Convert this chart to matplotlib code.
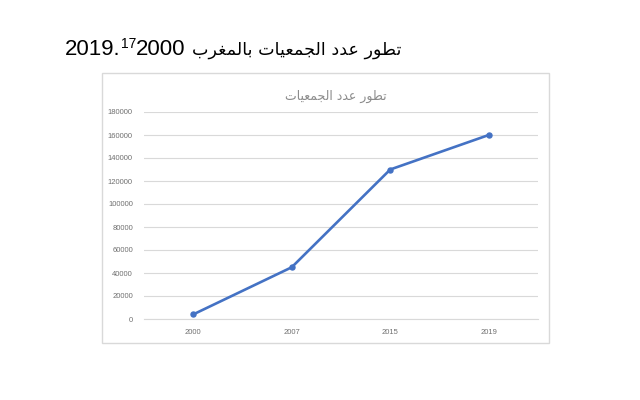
import matplotlib
matplotlib.use("Agg")
import matplotlib.pyplot as plt
from matplotlib.patches import Rectangle

# ---- data ----
years = ["2000", "2007", "2015", "2019"]
associations = [4000, 45000, 130000, 160000]
y_ticks = [0, 20000, 40000, 60000, 80000, 100000, 120000, 140000, 160000, 180000]
chart_title = "تطور عدد الجمعيات"
page_title_ar = "تطور عدد الجمعيات بالمغرب"
page_title_num1 = "2019."
page_title_sup = "17"
page_title_num2 = "2000"

# ---- minimal Arabic shaping (presentation forms) for display ----
FORMS = {  # isolated, final, initial, medial
    "ا": ("\uFE8D", "\uFE8E", None, None),
    "ب": ("\uFE8F", "\uFE90", "\uFE91", "\uFE92"),
    "ت": ("\uFE95", "\uFE96", "\uFE97", "\uFE98"),
    "ج": ("\uFE9D", "\uFE9E", "\uFE9F", "\uFEA0"),
    "د": ("\uFEA9", "\uFEAA", None, None),
    "ر": ("\uFEAD", "\uFEAE", None, None),
    "ط": ("\uFEC1", "\uFEC2", "\uFEC3", "\uFEC4"),
    "ع": ("\uFEC9", "\uFECA", "\uFECB", "\uFECC"),
    "غ": ("\uFECD", "\uFECE", "\uFECF", "\uFED0"),
    "ل": ("\uFEDD", "\uFEDE", "\uFEDF", "\uFEE0"),
    "م": ("\uFEE1", "\uFEE2", "\uFEE3", "\uFEE4"),
    "و": ("\uFEED", "\uFEEE", None, None),
    "ي": ("\uFEF1", "\uFEF2", "\uFEF3", "\uFEF4"),
}


def dual(c):
    return c in FORMS and FORMS[c][2] is not None


def shape(text):
    out = []
    n = len(text)
    for i, c in enumerate(text):
        if c not in FORMS:
            out.append(c)
            continue
        prev_join = i > 0 and dual(text[i - 1])
        next_join = dual(c) and i + 1 < n and text[i + 1] in FORMS
        f = FORMS[c]
        if prev_join and next_join:
            out.append(f[3])
        elif prev_join:
            out.append(f[1])
        elif next_join:
            out.append(f[2])
        else:
            out.append(f[0])
    return "".join(reversed(out))


W, H = 640, 400
fig = plt.figure(figsize=(6.4, 4.0), dpi=100)
fig.patch.set_facecolor("white")

# chart frame
fig.patches.append(Rectangle((102 / W, 1 - 343 / H), (549 - 102) / W, (343 - 73) / H,
                             transform=fig.transFigure, facecolor="white",
                             edgecolor="#D9D9D9", linewidth=1.0, zorder=-5))

ax = fig.add_axes([144 / W, 1 - 319 / H, (538 - 144) / W, (319 - 112) / H])
ax.set_zorder(2)
ax.set_facecolor("none")
x = list(range(len(years)))
ax.plot(x, associations, color="#4472C4", linewidth=1.9, marker="o",
        markersize=3.6, zorder=3)
ax.set_xlim(-0.5, len(years) - 0.5)
ax.set_ylim(y_ticks[0], y_ticks[-1])
ax.set_yticks(y_ticks)
ax.set_yticklabels([str(v) for v in y_ticks])
ax.set_xticks(x)
ax.set_xticklabels(years)
ax.grid(axis="y", color="#D9D9D9", linewidth=0.8)
ax.set_axisbelow(True)
for s in ["top", "right", "left"]:
    ax.spines[s].set_visible(False)
ax.spines["bottom"].set_color("#D9D9D9")
ax.spines["bottom"].set_linewidth(0.8)
ax.tick_params(length=0, labelsize=5.5, labelcolor="#707070")
ax.tick_params(axis="y", pad=8)
ax.tick_params(axis="x", pad=7)
for lab in ax.get_xticklabels() + ax.get_yticklabels():
    lab.set_family(["Liberation Sans", "DejaVu Sans"])

# inner chart title
fig.text(336 / W, 1 - 96 / H, shape(chart_title), ha="center", va="center",
         fontsize=9, color="#8C8C8C", family=["DejaVu Sans"], zorder=3)

# page title built left to right in visual order
fig.canvas.draw()
r = fig.canvas.get_renderer()
base_y = 1 - 55 / H
x0 = 65 / W
fam = ["Liberation Sans", "DejaVu Sans"]
t1 = fig.text(x0, base_y, page_title_num1, fontsize=16, family=fam,
              color="black", va="baseline", ha="left")
bb = t1.get_window_extent(r)
t2 = fig.text(bb.x1 / W, base_y + 7 / H, page_title_sup, fontsize=10,
              family=fam, color="black", va="baseline", ha="left")
bb = t2.get_window_extent(r)
t3 = fig.text(bb.x1 / W, base_y, page_title_num2, fontsize=16, family=fam,
              color="black", va="baseline", ha="left")
bb = t3.get_window_extent(r)
t4 = fig.text(bb.x1 / W + 6 / W, base_y, shape(page_title_ar), fontsize=12.6,
              family=["DejaVu Sans"], color="black", va="baseline", ha="left")

fig.savefig("out.png", dpi=100, facecolor="white")
